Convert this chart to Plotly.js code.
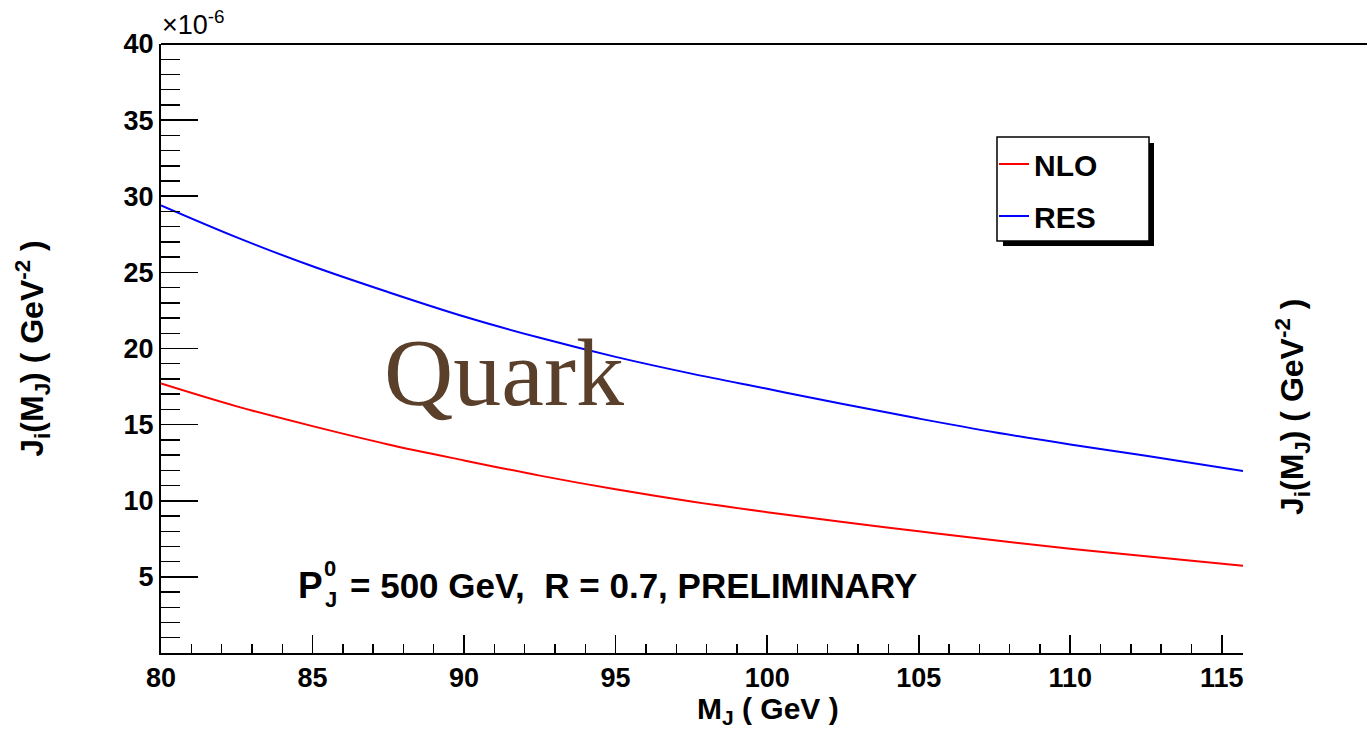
<!DOCTYPE html>
<html>
<head>
<meta charset="utf-8">
<script src="https://cdn.plot.ly/plotly-3.0.1.min.js"></script>
<style>html,body{margin:0;padding:0;background:#fff;}#chart{width:1367px;height:732px;}</style>
</head>
<body>
<div id="chart"></div>
<script>
// M_J (GeV)
var massGeV = [80, 82.5, 85, 87.5, 90, 92.5, 95, 97.5, 100, 102.5, 105, 107.5, 110, 112.5, 115.7];
// J_i(M_J) in units of 1e-6 GeV^-2
var nloValues = [17.7, 16.2, 14.9, 13.7, 12.65, 11.65, 10.75, 9.95, 9.25, 8.6, 8.0, 7.4, 6.85, 6.35, 5.73];
var resValues = [29.4, 27.3, 25.4, 23.7, 22.1, 20.7, 19.45, 18.35, 17.35, 16.35, 15.4, 14.5, 13.7, 12.95, 11.95];
var seriesNames = ["NLO", "RES"];
var xTickVals = [80, 85, 90, 95, 100, 105, 110, 115];
var yTickVals = [0, 5, 10, 15, 20, 25, 30, 35, 40];
var yTickText = ["", "5", "10", "15", "20", "25", "30", "35", "40"];

var W = 1367, H = 732, L = 161, R = 1243, T = 44, B = 653;
function px(x){ return (x - L) / (R - L); }
function py(y){ return (B - y) / (B - T); }

var FONT = "Liberation Sans, Arial, Helvetica, sans-serif";

var traces = [
  {x: massGeV, y: nloValues, name: seriesNames[0], type: "scatter", mode: "lines",
   line: {color: "#ff0000", width: 2, shape: "spline", smoothing: 1}, legendgroup: "a"},
  {x: massGeV, y: resValues, name: seriesNames[1], type: "scatter", mode: "lines",
   line: {color: "#0000ff", width: 2, shape: "spline", smoothing: 1}, legendgroup: "b"}
];

var layout = {
  width: W, height: H,
  margin: {l: L, r: W - R, t: T, b: H - B},
  paper_bgcolor: "#ffffff", plot_bgcolor: "#ffffff",
  font: {family: FONT, color: "#000", size: 27, weight: 700},
  showlegend: true,
  legend: {
    x: px(994), y: py(138), xanchor: "left", yanchor: "top",
    bgcolor: "rgba(0,0,0,0)", borderwidth: 0,
    font: {family: FONT, size: 30, weight: 700, color: "#000"},
    traceorder: "grouped", tracegroupgap: 10
  },
  xaxis: {
    range: [80, 115.7], tickmode: "array", tickvals: xTickVals,
    ticks: "inside", ticklen: 18, tickwidth: 1.6, tickcolor: "#000",
    showline: true, linecolor: "#000", linewidth: 2, mirror: false,
    showgrid: false, zeroline: false,
    tickfont: {family: FONT, size: 27, weight: 700, color: "#000"},
    minor: {tickmode: "linear", tick0: 80, dtick: 1, ticks: "inside", ticklen: 9, tickwidth: 1.4, tickcolor: "#000", showgrid: false}
  },
  yaxis: {
    range: [0, 40], tickmode: "array", tickvals: yTickVals, ticktext: yTickText,
    ticks: "inside", ticklen: 37, tickwidth: 1.6, tickcolor: "#000",
    showline: true, linecolor: "#000", linewidth: 2, mirror: false,
    showgrid: false, zeroline: false,
    tickfont: {family: FONT, size: 27, weight: 700, color: "#000"},
    minor: {tickmode: "linear", tick0: 0, dtick: 1, ticks: "inside", ticklen: 19, tickwidth: 1.4, tickcolor: "#000", showgrid: false},
    title: {text: "J<sub>i</sub>(M<sub>J</sub>) ( GeV<sup>-2</sup> )", standoff: 70,
            font: {family: FONT, size: 32, weight: 700, color: "#000"}}
  },
  shapes: [
    {type: "line", xref: "paper", yref: "paper", x0: 0, x1: px(1367), y0: 1, y1: 1,
     line: {color: "#000", width: 2}},
    {type: "rect", xref: "paper", yref: "paper", x0: px(1003), x1: px(1154), y0: py(246), y1: py(143),
     fillcolor: "#000", line: {width: 0}, layer: "above"},
    {type: "rect", xref: "paper", yref: "paper", x0: px(997), x1: px(1149), y0: py(241), y1: py(137),
     fillcolor: "#ffffff", line: {color: "#000", width: 1.5}, layer: "above"}
  ],
  annotations: [
    {xref: "paper", yref: "paper", x: px(160), y: py(42), xanchor: "left", yanchor: "bottom",
     text: "×10<sup>-6</sup>", showarrow: false, font: {family: FONT, size: 27, weight: 400, color: "#000"}},
    {xref: "paper", yref: "paper", x: px(768), y: py(731), xanchor: "center", yanchor: "bottom",
     text: "M<sub>J</sub> ( GeV )", showarrow: false, font: {family: FONT, size: 30, weight: 700, color: "#000"}},
    {xref: "paper", yref: "paper", x: px(1292), y: py(407), xanchor: "center", yanchor: "middle", textangle: -90,
     text: "J<sub>i</sub>(M<sub>J</sub>) ( GeV<sup>-2</sup> )", showarrow: false, font: {family: FONT, size: 32, weight: 700, color: "#000"}},
    {xref: "paper", yref: "paper", x: px(504), y: py(372), xanchor: "center", yanchor: "middle",
     text: "Quark", showarrow: false, font: {family: "Liberation Serif, DejaVu Serif, serif", size: 96, weight: 400, color: "#5a3f2b"}},
    {xref: "paper", yref: "paper", x: px(296), y: py(585), xanchor: "left", yanchor: "middle",
     text: "P", showarrow: false, font: {family: FONT, size: 37, weight: 700, color: "#000"}},
    {xref: "paper", yref: "paper", x: px(322), y: py(568), xanchor: "left", yanchor: "middle",
     text: "0", showarrow: false, font: {family: FONT, size: 22, weight: 700, color: "#000"}},
    {xref: "paper", yref: "paper", x: px(323), y: py(599), xanchor: "left", yanchor: "middle",
     text: "J", showarrow: false, font: {family: FONT, size: 22, weight: 700, color: "#000"}},
    {xref: "paper", yref: "paper", x: px(348), y: py(585), xanchor: "left", yanchor: "middle",
     text: "= 500 GeV,  R = 0.7, PRELIMINARY", showarrow: false, font: {family: FONT, size: 35, weight: 700, color: "#000"}}
  ]
};

Plotly.newPlot("chart", traces, layout, {displayModeBar: false, staticPlot: true});
</script>
</body>
</html>
